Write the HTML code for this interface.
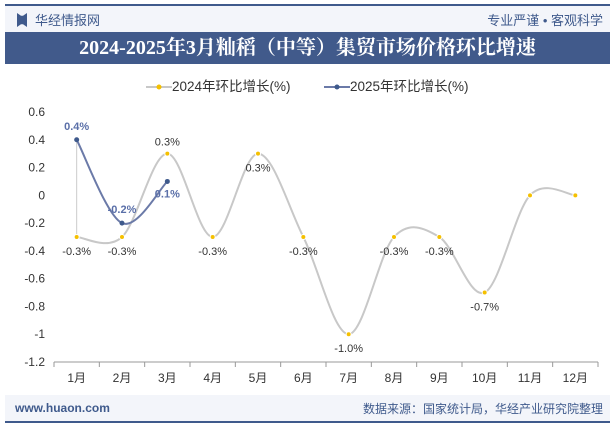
<!DOCTYPE html>
<html><head><meta charset="utf-8"><style>
body{margin:0;width:615px;height:427px;background:#fff;overflow:hidden;font-family:"Liberation Sans","Noto Sans CJK SC",sans-serif;position:relative}
.a{position:absolute}
</style></head><body>
<div class="a" style="left:5px;top:4px;width:605px;height:2px;background:#3f5a8c"></div>
<div class="a" style="left:5px;top:6px;width:605px;height:26px;background:#f3f5fa"></div>
<div class="a" style="left:17px;top:13px;width:10px;height:14px;background:#3f5a8c;clip-path:polygon(0 0,40% 20%,60% 20%,100% 0,100% 100%,60% 80%,40% 80%,0 100%)"></div>
<div class="a" style="left:35px;top:10px;font-size:13px;color:#3f5a8c">华经情报网</div>
<div class="a" style="right:12px;top:10px;font-size:13px;color:#3f5a8c">专业严谨 • 客观科学</div>
<div class="a" style="left:5px;top:32px;width:605px;height:32px;background:#415a8b;color:#fff;font-size:20px;font-weight:bold;text-align:center;line-height:32px;font-family:'Liberation Serif','Noto Serif CJK SC',serif">2024-2025年3月籼稻（中等）集贸市场价格环比增速</div>
<div class="a" style="left:146px;top:75px;font-size:13.5px;color:#333;white-space:nowrap"><svg width="26" height="10" style="vertical-align:middle"><line x1="0" y1="5" x2="26" y2="5" stroke="#c8c8c8" stroke-width="2"/><circle cx="13" cy="5" r="2.5" fill="#f5c000"/></svg>2024年环比增长(%)</div>
<div class="a" style="left:324px;top:75px;font-size:13.5px;color:#333;white-space:nowrap"><svg width="26" height="10" style="vertical-align:middle"><line x1="0" y1="5" x2="26" y2="5" stroke="#6b7aa8" stroke-width="2"/><circle cx="13" cy="5" r="2.5" fill="#3f5a8c"/></svg>2025年环比增长(%)</div>
<svg class="a" style="left:0;top:0" width="615" height="427" id="chart"></svg>
<div class="a" style="left:5px;top:395px;width:605px;height:27px;background:#f3f5fa"></div>
<div class="a" style="left:15px;top:401px;font-size:12px;font-weight:bold;color:#3f5a8c">www.huaon.com</div>
<div class="a" style="right:12px;top:400px;font-size:12px;color:#3f5a8c">数据来源：国家统计局，华经产业研究院整理</div>
<div class="a" style="left:5px;top:421px;width:605px;height:2px;background:#3f5a8c"></div>
<script>
const categories=["1月","2月","3月","4月","5月","6月","7月","8月","9月","10月","11月","12月"];
const values2024=[-0.3,-0.3,0.3,-0.3,0.3,-0.3,-1.0,-0.3,-0.3,-0.7,0,0];
const values2025=[0.4,-0.2,0.1];
const labels2024=["-0.3%","-0.3%","0.3%","-0.3%","0.3%","-0.3%","-1.0%","-0.3%","-0.3%","-0.7%","",""];
const labels2025=["0.4%","-0.2%","0.1%"];
const yTicks=[0.6,0.4,0.2,0,-0.2,-0.4,-0.6,-0.8,-1,-1.2];
const NS="http://www.w3.org/2000/svg",svg=document.getElementById('chart');
const x0=54,x1=598,yTop=112,yBot=362,vMax=0.6,vMin=-1.2;
const bw=(x1-x0)/categories.length;
const X=i=>x0+bw*(i+0.5);
const Y=v=>yTop+(vMax-v)/(vMax-vMin)*(yBot-yTop);
function mk(t,a,p){const e=document.createElementNS(NS,t);for(const k in a)e.setAttribute(k,a[k]);(p||svg).appendChild(e);return e;}
function txt(x,y,s,a){const e=mk('text',Object.assign({x:x,y:y,'font-size':11,fill:'#333','font-family':'Liberation Sans, Noto Sans CJK SC, sans-serif'},a||{}));e.textContent=s;return e;}
yTicks.forEach(v=>{const t=txt(45,Y(v)+4,String(v),{'text-anchor':'end','font-size':12});

});
const ax=mk('line',{x1:x0,y1:yBot,x2:x1,y2:yBot,stroke:'#999'});


for(let i=0;i<=categories.length;i++){const tk=mk('line',{x1:x0+bw*i,y1:yBot,x2:x0+bw*i,y2:yBot+5,stroke:'#999'});

}
categories.forEach((c,i)=>{const t=txt(X(i),yBot+20,c,{'text-anchor':'middle','font-size':12});

});
function path(vals){const p=vals.map((v,i)=>[X(i),Y(v)]);let d='M'+p[0][0]+','+p[0][1];
for(let i=0;i<p.length-1;i++){const a=p[i-1]||p[i],b=p[i],c=p[i+1],e=p[i+2]||c;
d+=` C${b[0]+(c[0]-a[0])/6},${b[1]+(c[1]-a[1])/6} ${c[0]-(e[0]-b[0])/6},${c[1]-(e[1]-b[1])/6} ${c[0]},${c[1]}`;}return d;}
const drop=mk('line',{x1:X(0),y1:Y(values2025[0]),x2:X(0),y2:Y(values2024[0]),stroke:'#ccc'});


const l24=mk('path',{d:path(values2024),fill:'none',stroke:'#c8c8c8','stroke-width':2});


const l25=mk('path',{d:path(values2025),fill:'none',stroke:'#6b7aa8','stroke-width':2});


values2024.forEach((v,i)=>{const c=mk('circle',{cx:X(i),cy:Y(v),r:2.5,fill:'#f5c000',stroke:'#fff','stroke-width':1});


if(labels2024[i]){const above=i===2;const t=txt(X(i),above?Y(v)-8:Y(v)+18,labels2024[i],{'text-anchor':'middle'});

}});
values2025.forEach((v,i)=>{const c=mk('circle',{cx:X(i),cy:Y(v),r:2.5,fill:'#3f5a8c'});


const below=i===2;const t=txt(X(i),below?Y(v)+16:Y(v)-10,labels2025[i],{'text-anchor':'middle','font-weight':'bold',fill:'#5a6fa8'});

});
</script>
</body></html>
